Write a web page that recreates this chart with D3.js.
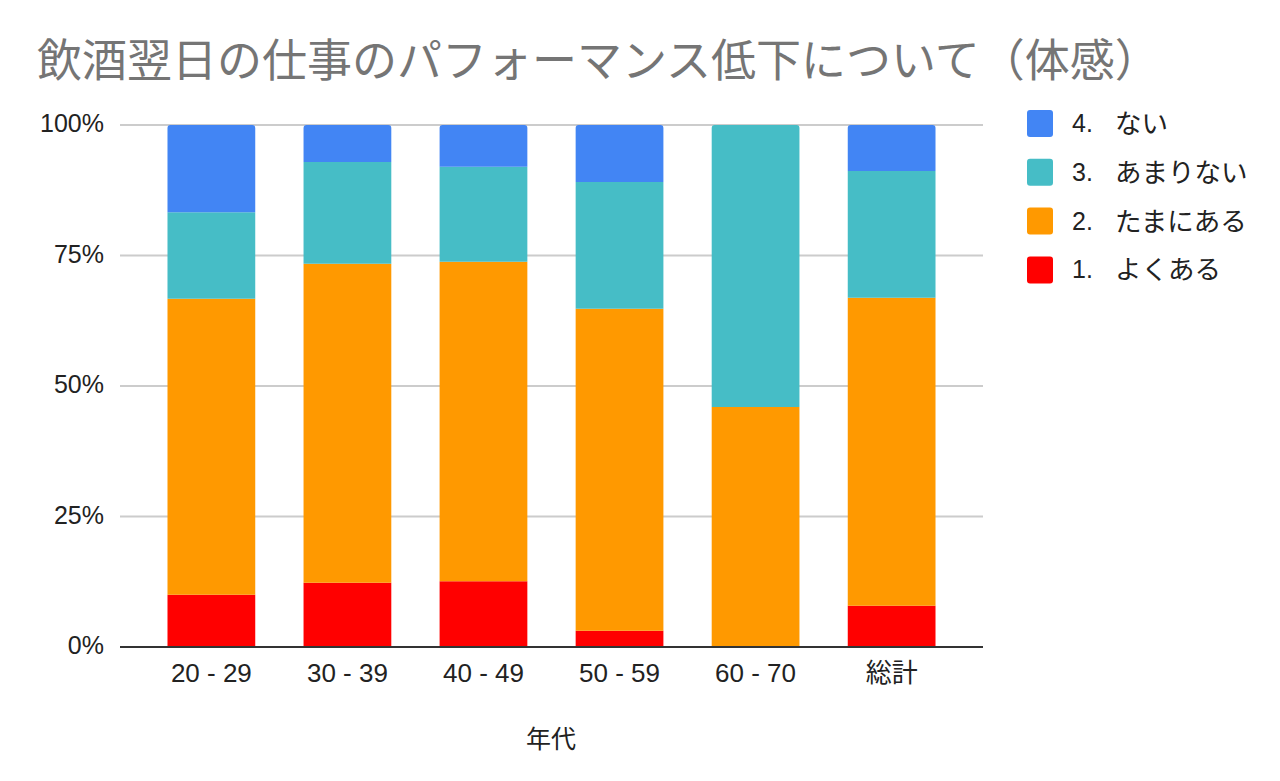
<!DOCTYPE html>
<html>
<head>
<meta charset="utf-8">
<script src="https://cdn.jsdelivr.net/npm/d3@7"></script>
<style>
  body { margin: 0; background: #fff; }
  text { font-family: "Liberation Sans", Arial, "Noto Sans CJK JP", sans-serif; }
  .jp { font-family: "Noto Sans CJK JP", sans-serif; }
</style>
</head>
<body>
<svg id="chart"></svg>
<script>
var width = 1280, height = 781;

// data (percent per age group)
const categories = ["20 - 29", "30 - 39", "40 - 49", "50 - 59", "60 - 70", "総計"];
const seriesNums = ["1.", "2.", "3.", "4."];
const seriesNames = ["よくある", "たまにある", "あまりない", "ない"];
const yoku   = [10.0, 12.3, 12.6,  3.1,  0.0,  7.9];
const tamani = [56.7, 61.1, 61.2, 61.7, 46.0, 59.0];
const amari  = [16.6, 19.5, 18.2, 24.3, 54.0, 24.3];
const nai    = [16.7,  7.1,  8.0, 10.9,  0.0,  8.8];
const yTicks = [0, 25, 50, 75, 100];
const colors = ["#ff0000", "#ff9900", "#46bdc6", "#4285f4"];

const series = [yoku, tamani, amari, nai];

const svg = d3.select("svg#chart")
  .attr("width", width)
  .attr("height", height);

// title
svg.append("text")
  .attr("class", "jp")
  .attr("x", 37)
  .attr("y", 77)
  .style("font-size", "45px")
  .style("fill", "#757575")
  .text("飲酒翌日の仕事のパフォーマンス低下について（体感）");

const x = d3.scaleBand()
  .domain(categories)
  .range([143, 960])
  .paddingInner(0.355)
  .paddingOuter(0.18);

const y = d3.scaleLinear()
  .domain([0, 100])
  .range([647, 125]);

// gridlines
svg.append("g").selectAll("line")
  .data(yTicks.filter(d => d > 0))
  .enter().append("line")
    .attr("x1", 120).attr("x2", 983)
    .attr("y1", d => y(d)).attr("y2", d => y(d))
    .style("stroke", "#cccccc")
    .style("stroke-width", 2);

// y labels
svg.append("g").selectAll("text")
  .data(yTicks)
  .enter().append("text")
    .attr("x", 104)
    .attr("y", d => y(d) + 7)
    .attr("text-anchor", "end")
    .style("font-size", "25px")
    .style("fill", "#222")
    .text(d => d + "%");

// stacked data
const rows = categories.map((c, i) => {
  const r = { cat: c };
  series.forEach((s, k) => r["s" + k] = s[i]);
  return r;
});
const stack = d3.stack().keys(series.map((s, k) => "s" + k));
const stacked = stack(rows);

// top segment index of each bar (to round corners)
const topIndex = categories.map((c, i) => {
  let t = 0;
  series.forEach((s, k) => { if (s[i] > 0) t = k; });
  return t;
});

function segPath(x0, x1, y0, y1, round) {
  const r = round ? 3 : 0;
  return "M" + x0 + "," + y0 +
    "V" + (y1 + r) +
    (r ? "Q" + x0 + "," + y1 + " " + (x0 + r) + "," + y1 : "") +
    "H" + (x1 - r) +
    (r ? "Q" + x1 + "," + y1 + " " + x1 + "," + (y1 + r) : "") +
    "V" + y0 + "Z";
}

const bars = svg.append("g");
stacked.forEach((layer, k) => {
  bars.selectAll(".s" + k)
    .data(layer)
    .enter().append("path")
      .attr("class", "s" + k)
      .attr("d", (d, i) => {
        if (d[1] - d[0] <= 0) return null;
        const x0 = x(categories[i]), x1 = x0 + x.bandwidth();
        return segPath(x0, x1, y(d[0]), y(Math.min(d[1], 100)), topIndex[i] === k);
      })
      .style("fill", colors[k]);
});

// baseline
svg.append("line")
  .attr("x1", 120).attr("x2", 983)
  .attr("y1", y(0)).attr("y2", y(0))
  .style("stroke", "#333")
  .style("stroke-width", 2);

// x labels
svg.append("g").selectAll("text")
  .data(categories)
  .enter().append("text")
    .attr("x", d => x(d) + x.bandwidth() / 2)
    .attr("y", 682)
    .attr("text-anchor", "middle")
    .style("font-size", "26px")
    .style("fill", "#222")
    .text(d => d);

svg.append("text")
  .attr("class", "jp")
  .attr("x", 551)
  .attr("y", 748)
  .attr("text-anchor", "middle")
  .style("font-size", "25px")
  .style("fill", "#222")
  .text("年代");

// legend (reverse order)
const legendItems = seriesNames.map((n, k) => ({ num: seriesNums[k], name: n, color: colors[k] })).reverse();
const lg = svg.append("g").selectAll("g")
  .data(legendItems)
  .enter().append("g")
    .attr("transform", (d, i) => "translate(1027," + (110 + i * 48.8) + ")");
lg.append("rect")
  .attr("width", 26).attr("height", 27)
  .attr("rx", 3)
  .style("fill", d => d.color);
lg.append("text")
  .attr("x", 45)
  .attr("y", 22)
  .style("font-size", "25px")
  .style("fill", "#222")
  .text(d => d.num);
lg.append("text")
  .attr("class", "jp")
  .attr("x", 88)
  .attr("y", 23)
  .style("font-size", "26.5px")
  .style("fill", "#222")
  .text(d => d.name);
</script>
</body>
</html>
